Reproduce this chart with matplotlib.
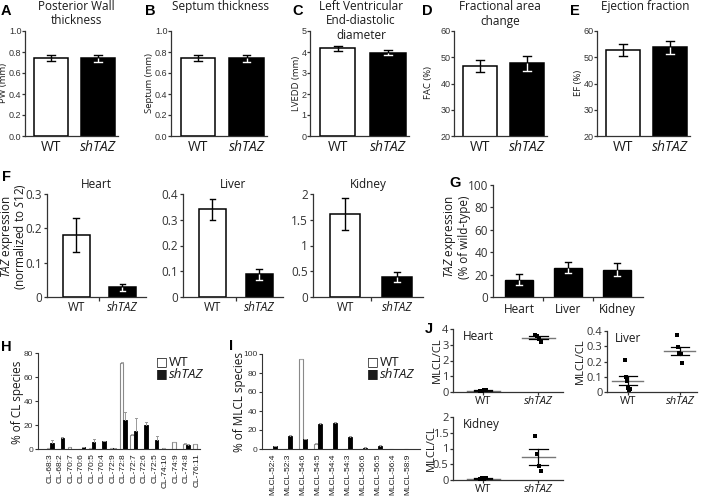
import numpy as np
import matplotlib
matplotlib.use('Agg')
import matplotlib.pyplot as plt

plt.rcParams['font.family'] = ['Open Sans', 'DejaVu Sans']
plt.rcParams['mathtext.fontset'] = 'custom'
plt.rcParams['mathtext.rm'] = 'Open Sans'
plt.rcParams['mathtext.it'] = 'Open Sans:italic'

W, H = 706, 496

# ---------------- data ----------------
groups = ['WT', 'shTAZ']

pw_mean = [0.745, 0.74]
pw_err = [0.03, 0.035]
septum_mean = [0.745, 0.74]
septum_err = [0.03, 0.035]
lvedd_mean = [4.18, 3.97]
lvedd_err = [0.11, 0.11]
fac_mean = [46.7, 47.7]
fac_err = [2.4, 2.8]
ef_mean = [52.8, 53.8]
ef_err = [2.4, 2.5]

taz_heart = [0.18, 0.028]
taz_heart_err = [0.05, 0.011]
taz_liver = [0.34, 0.088]
taz_liver_err = [0.04, 0.021]
taz_kidney = [1.62, 0.39]
taz_kidney_err = [0.31, 0.09]

tissues = ['Heart', 'Liver', 'Kidney']
taz_pct = [15.5, 26.3, 24.5]
taz_pct_err = [5.0, 5.2, 6.0]

cl_species = ['CL-68:3', 'CL-68:2', 'CL-70:7', 'CL-70:6', 'CL-70:5', 'CL-70:4',
              'CL-72:9', 'CL-72:8', 'CL-72:7', 'CL-72:6', 'CL-72:5', 'CL-74:10',
              'CL-74:9', 'CL-74:8', 'CL-76:11']
cl_wt = [0.5, 0.0, 1.5, 0.3, 0.5, 0.3, 0.5, 71.5, 11.5, 0.3, 0.3, 1.0, 5.5, 4.5, 4.0]
cl_wt_err = [0.2, 0.0, 0.3, 0.1, 0.2, 0.1, 0.2, 0.6, 1.0, 0.1, 0.1, 0.2, 0.5, 0.4, 0.4]
cl_sh = [4.7, 9.2, 0.3, 1.6, 6.0, 6.5, 0.6, 24.5, 15.2, 20.0, 7.5, 0.0, 0.2, 3.5, 0.2]
cl_sh_err = [2.5, 0.5, 0.1, 0.3, 2.5, 0.5, 0.1, 6.0, 10.5, 2.5, 3.2, 0.0, 0.1, 0.5, 0.1]

mlcl_species = ['MLCL-52:4', 'MLCL-52:3', 'MLCL-54:6', 'MLCL-54:5', 'MLCL-54:4',
                'MLCL-54:3', 'MLCL-56:6', 'MLCL-56:5', 'MLCL-56:4', 'MLCL-58:9']
mlcl_wt = [0.0, 0.0, 94.5, 5.0, 0.0, 0.0, 0.0, 0.0, 0.0, 0.0]
mlcl_wt_err = [0.0, 0.0, 0.6, 1.0, 0.0, 0.0, 0.0, 0.0, 0.0, 0.0]
mlcl_sh = [2.8, 13.8, 10.5, 26.0, 27.8, 13.0, 1.5, 3.5, 0.2, 0.2]
mlcl_sh_err = [0.4, 0.6, 0.5, 1.0, 0.6, 0.4, 0.2, 0.3, 0.0, 0.0]

j_heart_wt = [0.05, 0.08, 0.10, 0.12]
j_heart_sh = [3.65, 3.55, 3.35, 3.20]
j_liver_wt = [0.21, 0.096, 0.075, 0.028, 0.015, 0.02]
j_liver_sh = [0.375, 0.293, 0.257, 0.25, 0.246, 0.188]
j_kidney_wt = [0.03, 0.05, 0.04, 0.06]
j_kidney_sh = [1.41, 0.84, 0.44, 0.28]

# ---------------- helpers ----------------
fig = plt.figure(figsize=(W / 100, H / 100), dpi=100)
INK = '#1a1a1a'


def px_axes(l, t, r, b):
    return fig.add_axes([l / W, 1 - b / H, (r - l) / W, (b - t) / H])


def ftext(x, y, s, **kw):
    kw.setdefault('ha', 'center')
    kw.setdefault('va', 'center')
    kw.setdefault('color', INK)
    return fig.text(x / W, 1 - y / H, s, **kw)


def style(ax, tick_fs=6.5, tick_font='Liberation Sans', lw=0.9, tlen=2.5, tpad=1):
    for s in ('top', 'right'):
        ax.spines[s].set_visible(False)
    for s in ('left', 'bottom'):
        ax.spines[s].set_linewidth(lw)
        ax.spines[s].set_color('#333333')
    ax.tick_params(axis='y', length=tlen, width=lw, pad=tpad, labelsize=tick_fs,
                   colors='#333333')
    for lab in ax.get_yticklabels():
        lab.set_fontfamily(tick_font)
    ax.patch.set_alpha(0)


def split_err(ax, x, y, e, dark, capw, lw=1.0):
    low = 'white' if dark else 'black'
    ax.plot([x, x], [y, y + e], color='black', lw=lw, zorder=4, solid_capstyle='butt')
    ax.plot([x, x], [y - e, y], color=low, lw=lw, zorder=4, solid_capstyle='butt')
    ax.plot([x - capw, x + capw], [y + e, y + e], color='black', lw=lw, zorder=4)
    ax.plot([x - capw, x + capw], [y - e, y - e], color=low, lw=lw, zorder=4)


def bar_pair(ax, means, errs, width, labels, xfs, capw=0.08):
    xs = np.arange(len(means))
    cols = ['white'] + ['black'] * (len(means) - 1)
    ax.bar(xs, means, width=width, color=cols, edgecolor='black', linewidth=1.1, zorder=2)
    for x, m, e, c in zip(xs, means, errs, cols):
        split_err(ax, x, m, e, c == 'black', capw)
    ax.set_xticks(xs)
    ax.set_xticklabels(labels, fontsize=xfs, color=INK)
    ax.tick_params(axis='x', length=0, pad=3)
    for lab in ax.get_xticklabels():
        if lab.get_text().startswith('sh'):
            lab.set_fontstyle('italic')


# ---------------- row 1 ----------------
top_specs = [
    ((25, 31, 118, 136), pw_mean, pw_err, (0, 1), np.arange(0, 1.01, 0.2), '%.1f', 'PW (mm)', 4),
    ((171, 31, 267, 136), septum_mean, septum_err, (0, 1), np.arange(0, 1.01, 0.2), '%.1f', 'Septum (mm)', 150),
    ((310, 31, 409, 136), lvedd_mean, lvedd_err, (0, 5), np.arange(0, 6, 1), '%d', 'LVEDD (mm)', 297),
    ((454, 31, 547, 136), fac_mean, fac_err, (20, 60), np.arange(20, 61, 10), '%d', 'FAC (%)', 428),
    ((597, 31, 690, 136), ef_mean, ef_err, (20, 60), np.arange(20, 61, 10), '%d', 'EF (%)', 579),
]
for box, m, e, ylim, yt, fmt, ylab, ylx in top_specs:
    ax = px_axes(*box)
    bar_pair(ax, m, e, 0.71, groups, 10)
    ax.set_xlim(-0.55, 1.42)
    ax.set_ylim(*ylim)
    ax.set_yticks(yt)
    ax.set_yticklabels([fmt % v for v in yt])
    style(ax, tlen=2, tpad=0.5)
    ftext(ylx, 83, ylab, rotation=90, fontsize=6.8)

titles = [
    (76, ['Posterior Wall', 'thickness']),
    (221, ['Septum thickness']),
    (361, ['Left Ventricular', 'End-diastolic', 'diameter']),
    (500, ['Fractional area', 'change']),
    (645, ['Ejection fraction']),
]
for cx, lines in titles:
    for i, line in enumerate(lines):
        ftext(cx, 10 + 14.5 * i, line, fontsize=8.5, va='baseline')

# ---------------- row 2: F ----------------
f_specs = [
    ((47, 194, 146, 297), taz_heart, taz_heart_err, (0, 0.3), [0, 0.1, 0.2, 0.3], ['0', '0.1', '0.2', '0.3'], 'Heart'),
    ((183, 194, 283, 297), taz_liver, taz_liver_err, (0, 0.4), [0, 0.1, 0.2, 0.3, 0.4], ['0', '0.1', '0.2', '0.3', '0.4'], 'Liver'),
    ((313, 194, 423, 297), taz_kidney, taz_kidney_err, (0, 2), [0, 0.5, 1, 1.5, 2], ['0', '0.5', '1', '1.5', '2'], 'Kidney'),
]
for box, m, e, ylim, yt, ytl, title in f_specs:
    ax = px_axes(*box)
    bar_pair(ax, m, e, 0.58, groups, 8.5, capw=0.06)
    ax.set_xlim(-0.63, 1.51)
    ax.set_ylim(*ylim)
    ax.set_yticks(yt)
    ax.set_yticklabels(ytl)
    ax.set_xticks([0.5], minor=True)
    ax.tick_params(axis='x', which='minor', length=3, width=0.9, color='#333333')
    style(ax, tick_fs=8.5, tick_font='Open Sans')
    ax.set_title(title, fontsize=8.5, color=INK, pad=4)

ftext(7, 237, r'$\mathit{TAZ}$ expression', rotation=90, fontsize=8.5)
ftext(20, 237, r'(normalized to $\mathit{S12}$)', rotation=90, fontsize=8.5)

# ---------------- row 2: G ----------------
ax = px_axes(493, 185, 643, 297)
xs = np.arange(len(tissues))
ax.bar(xs, taz_pct, width=0.57, color='black', edgecolor='black', zorder=2)
for x, m, e in zip(xs, taz_pct, taz_pct_err):
    split_err(ax, x, m, e, True, 0.06)
ax.set_xticks(xs)
ax.set_xticklabels(tissues, fontsize=8.5, color=INK)
ax.set_xticks([0.5, 1.5], minor=True)
ax.tick_params(axis='x', length=0, pad=4)
ax.tick_params(axis='x', which='minor', length=3, width=0.9, color='#333333')
ax.set_xlim(-0.53, 2.53)
ax.set_ylim(0, 100)
ax.set_yticks(np.arange(0, 101, 20))
style(ax, tick_fs=8.5, tick_font='Open Sans')
ftext(450, 237, r'$\mathit{TAZ}$ expression', rotation=90, fontsize=8.5)
ftext(464, 237, '(% of wild-type)', rotation=90, fontsize=8.5)


# ---------------- row 3: H and I ----------------
def species_panel(box, cats, wt, wt_e, sh, sh_e, ylim, yt, xlim, bw, ylab, ylx, leg_x):
    ax = px_axes(*box)
    x = np.arange(len(cats))
    ax.bar(x - bw / 2, wt, width=bw, color='white', edgecolor='#8a8a8a', linewidth=0.8, zorder=2)
    ax.bar(x + bw / 2, sh, width=bw, color='black', edgecolor='black', linewidth=0.6, zorder=2)
    for xi, v, e in zip(x - bw / 2, wt, wt_e):
        if e > 0:
            ax.plot([xi, xi], [v, v + e], color='#aaaaaa', lw=0.7, zorder=3)
            ax.plot([xi - bw * 0.3, xi + bw * 0.3], [v + e] * 2, color='#aaaaaa', lw=0.7, zorder=3)
    for xi, v, e in zip(x + bw / 2, sh, sh_e):
        if e > 0:
            ax.plot([xi, xi], [v, v + e], color='#999999', lw=0.7, zorder=3)
            ax.plot([xi - bw * 0.3, xi + bw * 0.3], [v + e] * 2, color='#999999', lw=0.7, zorder=3)
    ax.set_xticks(x)
    ax.set_xticklabels(cats, rotation=90, fontsize=6, fontfamily='Liberation Sans', color=INK)
    ax.tick_params(axis='x', length=0, pad=3)
    ax.set_xlim(*xlim)
    ax.set_ylim(*ylim)
    ax.set_yticks(yt)
    style(ax, tick_fs=6, lw=0.8)
    ftext(ylx, 402, ylab, rotation=90, fontsize=8.5)
    # legend
    ftext(leg_x, 362, '\u25a1', fontsize=9, family='DejaVu Sans')
    ftext(leg_x, 374, '\u25a0', fontsize=9, family='DejaVu Sans')
    ftext(leg_x + 7, 362, 'WT', fontsize=9.5, ha='left')
    ftext(leg_x + 7, 374, 'shTAZ', fontsize=9.5, ha='left', style='italic')
    return ax


species_panel((38, 353, 200, 449), cl_species, cl_wt, cl_wt_err, cl_sh, cl_sh_err,
              (0, 80), np.arange(0, 81, 20), (-1.15, 14.3), 0.33, '% of CL species', 18, 162)
species_panel((262, 354, 420, 449), mlcl_species, mlcl_wt, mlcl_wt_err, mlcl_sh, mlcl_sh_err,
              (0, 100), np.arange(0, 101, 20), (-0.73, 9.8), 0.27, '% of MLCL species', 240, 373)


# ---------------- row 3: J ----------------
def dot_panel(box, wt, sh, ylim, yt, ytl, xlim, title, ylx):
    ax = px_axes(*box)
    for xi, pts in zip([0, 1], [wt, sh]):
        pts = np.asarray(pts)
        m = pts.mean()
        se = pts.std(ddof=1) / np.sqrt(len(pts))
        ax.plot([xi - 0.3, xi + 0.3], [m, m], color='#777777', lw=1.0, zorder=2)
        ax.plot([xi, xi], [m - se, m + se], color='black', lw=0.9, zorder=2)
        for yv in (m - se, m + se):
            ax.plot([xi - 0.17, xi + 0.17], [yv, yv], color='black', lw=0.9, zorder=2)
        ax.scatter(np.full(len(pts), xi) + np.linspace(-0.05, 0.05, len(pts)), pts,
                   s=5, marker='s', color='black', zorder=3, linewidths=0)
    ax.set_xticks([0, 1])
    ax.set_xticklabels(groups, fontsize=8, color=INK)
    ax.get_xticklabels()[1].set_fontstyle('italic')
    ax.tick_params(axis='x', length=2.5, width=0.9, pad=0.5, color='#333333')
    ax.set_xlim(*xlim)
    ax.set_ylim(*ylim)
    ax.set_yticks(yt)
    ax.set_yticklabels(ytl)
    style(ax, tick_fs=8, tick_font='Open Sans', tlen=2.5, tpad=0.8)
    ax.text(0.09, 0.88, title, transform=ax.transAxes, fontsize=8.5, color=INK, ha='left', va='center')
    ftext(ylx, (box[1] + box[3]) / 2, 'MLCL/CL', rotation=90, fontsize=8)
    return ax


dot_panel((453, 329, 563, 392), j_heart_wt, j_heart_sh, (0, 4), [0, 1, 2, 3, 4],
          ['0', '1', '2', '3', '4'], (-0.545, 1.45), 'Heart', 437)
dot_panel((607, 331, 697, 392), j_liver_wt, j_liver_sh, (0, 0.4), [0, 0.1, 0.2, 0.3, 0.4],
          ['0', '0.1', '0.2', '0.3', '0.4'], (-0.4, 1.33), 'Liver', 580)
dot_panel((453, 417, 563, 480), j_kidney_wt, j_kidney_sh, (0, 2), [0, 0.5, 1, 1.5, 2],
          ['0', '0.5', '1', '1.5', '2'], (-0.545, 1.45), 'Kidney', 431)

# ---------------- panel letters ----------------
for s, x, y in [('A', 6, 11), ('B', 150, 11), ('C', 298, 11), ('D', 427, 11), ('E', 575, 11),
                ('F', 6, 177), ('G', 455, 183), ('H', 6, 347), ('I', 231, 346), ('J', 429, 329)]:
    ftext(x, y, s, fontsize=10.5, fontweight='bold', family='Liberation Sans', color='black')

fig.savefig('out.png', dpi=100)
